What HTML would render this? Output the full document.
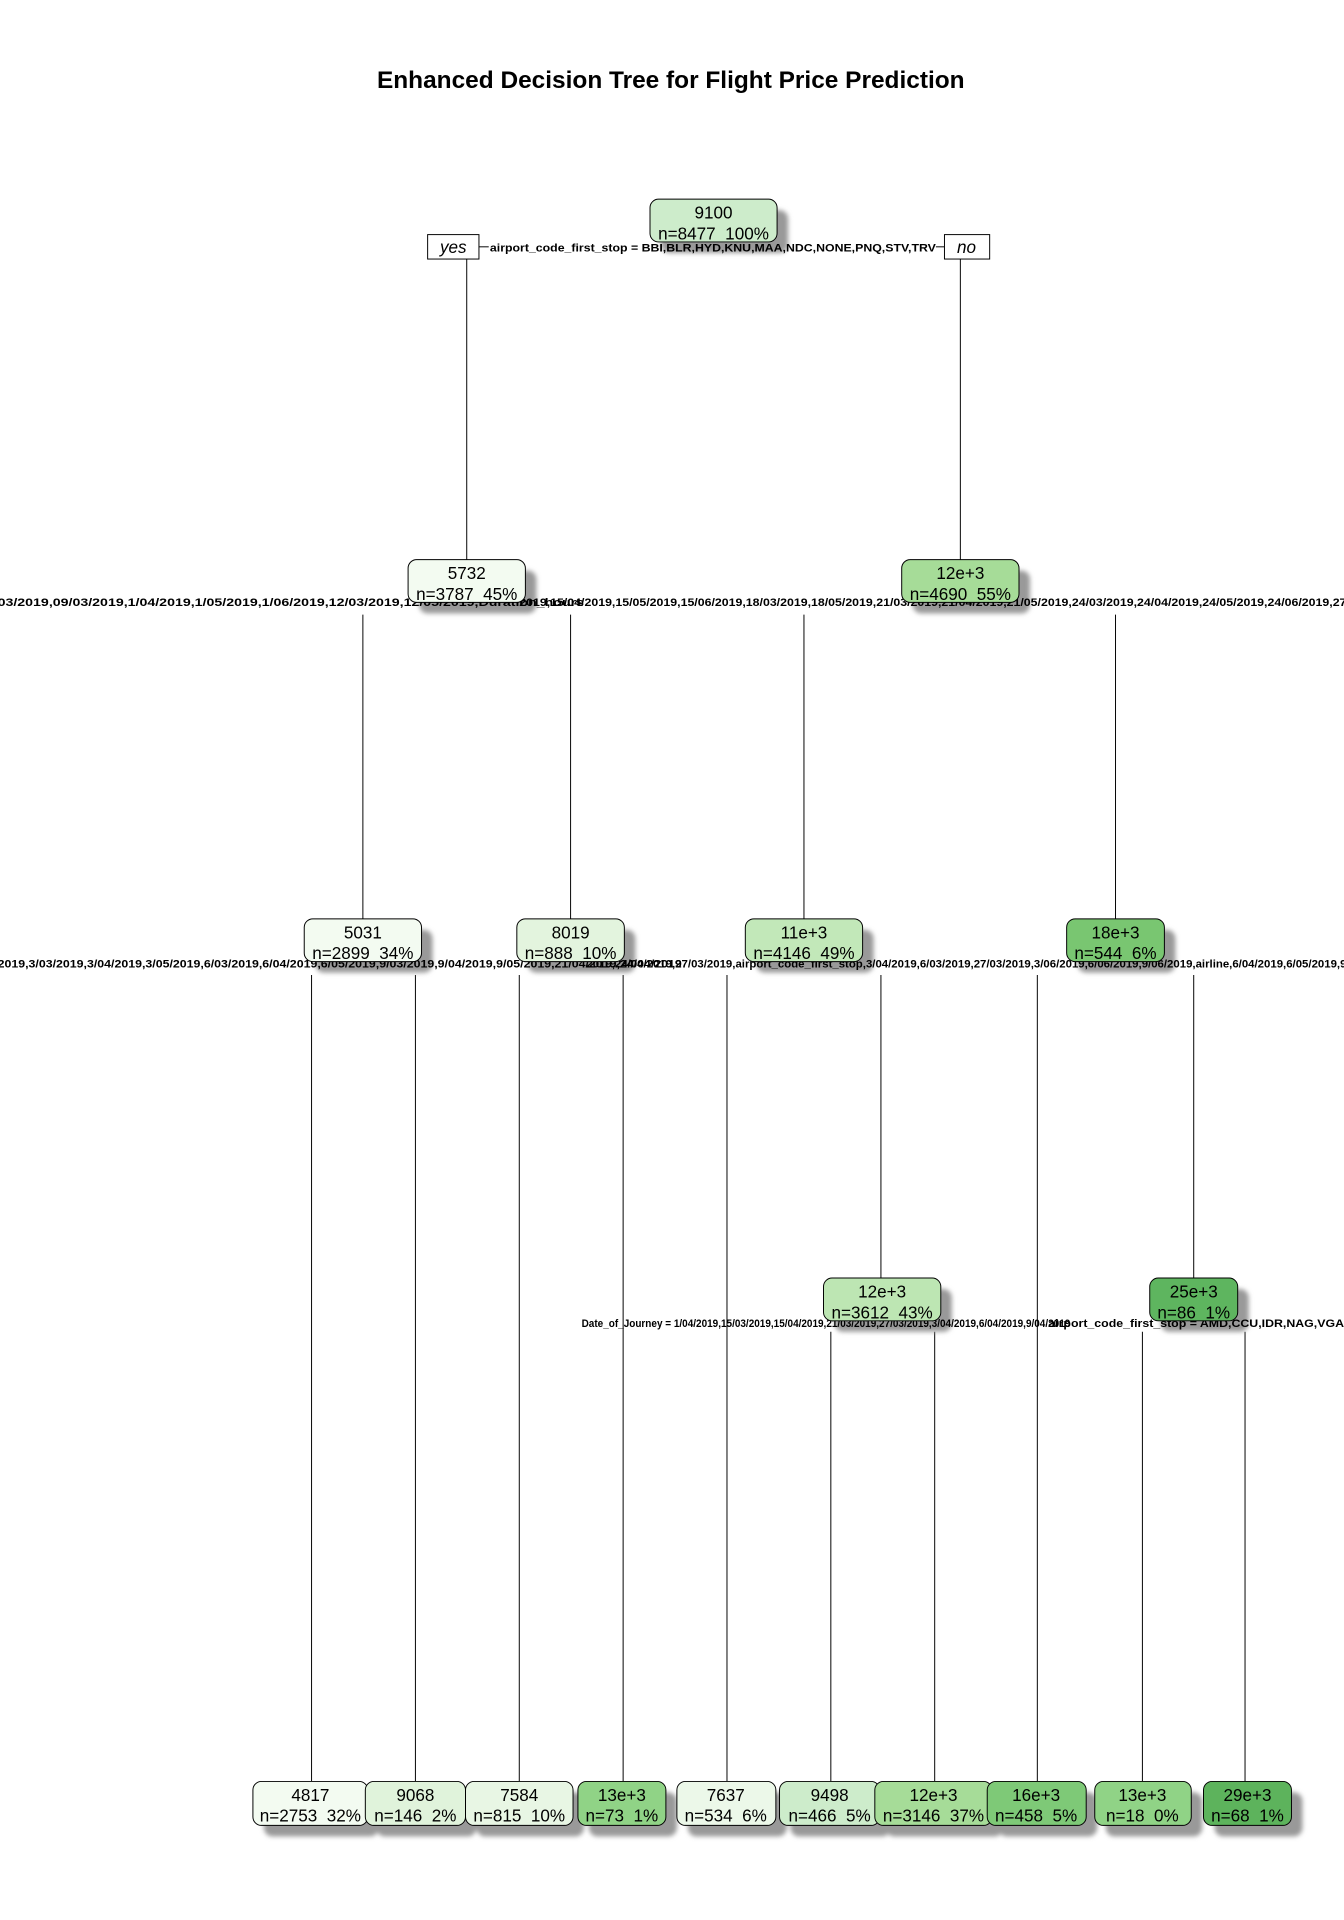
<!DOCTYPE html>
<html><head><meta charset="utf-8"><style>
html,body{margin:0;padding:0;background:#fff;}
svg{display:block;}
text{white-space:pre;}
.n{font-family:"Liberation Sans",sans-serif;font-size:14px;fill:#000;}
.l{font-family:"Liberation Sans",sans-serif;font-size:9px;font-weight:bold;fill:#000;}
</style></head><body>
<svg width="1344" height="1920" viewBox="0 0 1100 1571.4" xmlns="http://www.w3.org/2000/svg">
<defs><filter id="b" x="-20%" y="-40%" width="140%" height="180%"><feGaussianBlur stdDeviation="2"/></filter></defs>
<text x="549" y="72" text-anchor="middle" font-family="Liberation Sans,sans-serif" font-weight="bold" font-size="20">Enhanced Decision Tree for Flight Price Prediction</text>
<g stroke="#000" stroke-width="0.8" fill="none">
<line x1="382" y1="212" x2="382" y2="458"/><line x1="786" y1="212" x2="786" y2="458"/>
<line x1="297" y1="503" x2="297" y2="752"/><line x1="467" y1="503" x2="467" y2="752"/>
<line x1="658" y1="503" x2="658" y2="752"/><line x1="913" y1="503" x2="913" y2="752"/>
<line x1="255" y1="798" x2="255" y2="1458"/><line x1="340" y1="798" x2="340" y2="1458"/>
<line x1="425" y1="798" x2="425" y2="1458"/><line x1="510" y1="798" x2="510" y2="1458"/>
<line x1="595" y1="798" x2="595" y2="1458"/><line x1="721" y1="798" x2="721" y2="1046"/>
<line x1="849" y1="798" x2="849" y2="1458"/><line x1="977" y1="798" x2="977" y2="1046"/>
<line x1="680" y1="1090" x2="680" y2="1458"/><line x1="765" y1="1090" x2="765" y2="1458"/>
<line x1="935" y1="1090" x2="935" y2="1458"/><line x1="1019" y1="1090" x2="1019" y2="1458"/>
<line x1="392" y1="202" x2="400" y2="202"/><line x1="766" y1="202" x2="773" y2="202"/>
</g>
<g fill="#999" filter="url(#b)">
<rect x="541" y="172" width="104" height="35" rx="7"/>
<rect x="343" y="467" width="96" height="35" rx="7"/><rect x="747" y="467" width="96" height="35" rx="7"/>
<rect x="258" y="761" width="96" height="35" rx="7"/><rect x="432" y="761" width="88" height="35" rx="7"/>
<rect x="619" y="761" width="96" height="35" rx="7"/><rect x="882" y="761" width="80" height="35" rx="7"/>
<rect x="683" y="1055" width="96" height="35" rx="7"/><rect x="950" y="1055" width="72" height="35" rx="7"/>
<rect x="216" y="1467" width="94" height="36" rx="7"/><rect x="308" y="1467" width="82" height="36" rx="7"/>
<rect x="390" y="1467" width="88" height="36" rx="7"/><rect x="482" y="1467" width="72" height="36" rx="7"/>
<rect x="563" y="1467" width="81" height="36" rx="7"/><rect x="647" y="1467" width="82" height="36" rx="7"/>
<rect x="725" y="1467" width="96" height="36" rx="7"/><rect x="817" y="1467" width="81" height="36" rx="7"/>
<rect x="905" y="1467" width="79" height="36" rx="7"/><rect x="994" y="1467" width="72" height="36" rx="7"/>
</g>
<text class="l" x="401" y="206" textLength="365" lengthAdjust="spacingAndGlyphs">airport_code_first_stop = BBI,BLR,HYD,KNU,MAA,NDC,NONE,PNQ,STV,TRV</text>
<text class="l" x="-2" y="496" textLength="480" lengthAdjust="spacingAndGlyphs">03/2019,09/03/2019,1/04/2019,1/05/2019,1/06/2019,12/03/2019,12/05/2019,Duration_hours</text>
<text class="l" x="425" y="496" textLength="677" lengthAdjust="spacingAndGlyphs">2019,15/04/2019,15/05/2019,15/06/2019,18/03/2019,18/05/2019,21/03/2019,21/04/2019,21/05/2019,24/03/2019,24/04/2019,24/05/2019,24/06/2019,27</text>
<text class="l" x="-2" y="792" textLength="560" lengthAdjust="spacingAndGlyphs">2019,3/03/2019,3/04/2019,3/05/2019,6/03/2019,6/04/2019,6/05/2019,9/03/2019,9/04/2019,9/05/2019,21/04/2019,24/04/2019</text>
<text class="l" x="480" y="792" textLength="622" lengthAdjust="spacingAndGlyphs">2019,24/04/2019,27/03/2019,airport_code_first_stop,3/04/2019,6/03/2019,27/03/2019,3/06/2019,6/06/2019,9/06/2019,airline,6/04/2019,6/05/2019,9</text>
<text class="l" x="476" y="1086" textLength="400" lengthAdjust="spacingAndGlyphs">Date_of_Journey = 1/04/2019,15/03/2019,15/04/2019,21/03/2019,27/03/2019,3/04/2019,6/04/2019,9/04/2019</text>
<text class="l" x="858" y="1086" textLength="242" lengthAdjust="spacingAndGlyphs">airport_code_first_stop = AMD,CCU,IDR,NAG,VGA</text>
<g stroke="#000" stroke-width="0.8">
<rect x="350" y="192" width="42" height="20" fill="#fff"/><rect x="773" y="192" width="37" height="20" fill="#fff"/>
</g>
<text x="371" y="207" text-anchor="middle" font-family="Liberation Sans,sans-serif" font-style="italic" font-size="14">yes</text>
<text x="791" y="207" text-anchor="middle" font-family="Liberation Sans,sans-serif" font-style="italic" font-size="14">no</text>
<g stroke="#000" stroke-width="0.8">
<rect x="532" y="163" width="104" height="35" rx="7" fill="#cdeccb"/>
<rect x="334" y="458" width="96" height="35" rx="7" fill="#f3fbf1"/><rect x="738" y="458" width="96" height="35" rx="7" fill="#a6dc98"/>
<rect x="249" y="752" width="96" height="35" rx="7" fill="#f3fbf1"/><rect x="423" y="752" width="88" height="35" rx="7" fill="#e3f4de"/>
<rect x="610" y="752" width="96" height="35" rx="7" fill="#c2e8b9"/><rect x="873" y="752" width="80" height="35" rx="7" fill="#79c671"/>
<rect x="674" y="1046" width="96" height="35" rx="7" fill="#bde6b3"/><rect x="941" y="1046" width="72" height="35" rx="7" fill="#5eb55f"/>
<rect x="207" y="1458" width="94" height="36" rx="7" fill="#f3fbf1"/><rect x="299" y="1458" width="82" height="36" rx="7" fill="#e0f3db"/>
<rect x="381" y="1458" width="88" height="36" rx="7" fill="#e8f6e4"/><rect x="473" y="1458" width="72" height="36" rx="7" fill="#90d386"/>
<rect x="554" y="1458" width="81" height="36" rx="7" fill="#ecf8e9"/><rect x="638" y="1458" width="82" height="36" rx="7" fill="#cdeccb"/>
<rect x="716" y="1458" width="96" height="36" rx="7" fill="#a6dc98"/><rect x="808" y="1458" width="81" height="36" rx="7" fill="#7ec977"/>
<rect x="896" y="1458" width="79" height="36" rx="7" fill="#90d386"/><rect x="985" y="1458" width="72" height="36" rx="7" fill="#5db35c"/>
</g>
<g class="n" text-anchor="middle">
<text x="584" y="179">9100</text><text x="584" y="196">n=8477  100%</text>
<text x="382" y="474">5732</text><text x="382" y="491">n=3787  45%</text>
<text x="786" y="474">12e+3</text><text x="786" y="491">n=4690  55%</text>
<text x="297" y="768">5031</text><text x="297" y="785">n=2899  34%</text>
<text x="467" y="768">8019</text><text x="467" y="785">n=888  10%</text>
<text x="658" y="768">11e+3</text><text x="658" y="785">n=4146  49%</text>
<text x="913" y="768">18e+3</text><text x="913" y="785">n=544  6%</text>
<text x="722" y="1062">12e+3</text><text x="722" y="1079">n=3612  43%</text>
<text x="977" y="1062">25e+3</text><text x="977" y="1079">n=86  1%</text>
<text x="254" y="1474">4817</text><text x="254" y="1491">n=2753  32%</text>
<text x="340" y="1474">9068</text><text x="340" y="1491">n=146  2%</text>
<text x="425" y="1474">7584</text><text x="425" y="1491">n=815  10%</text>
<text x="509" y="1474">13e+3</text><text x="509" y="1491">n=73  1%</text>
<text x="594" y="1474">7637</text><text x="594" y="1491">n=534  6%</text>
<text x="679" y="1474">9498</text><text x="679" y="1491">n=466  5%</text>
<text x="764" y="1474">12e+3</text><text x="764" y="1491">n=3146  37%</text>
<text x="848" y="1474">16e+3</text><text x="848" y="1491">n=458  5%</text>
<text x="935" y="1474">13e+3</text><text x="935" y="1491">n=18  0%</text>
<text x="1021" y="1474">29e+3</text><text x="1021" y="1491">n=68  1%</text>
</g>
</svg>
</body></html>
